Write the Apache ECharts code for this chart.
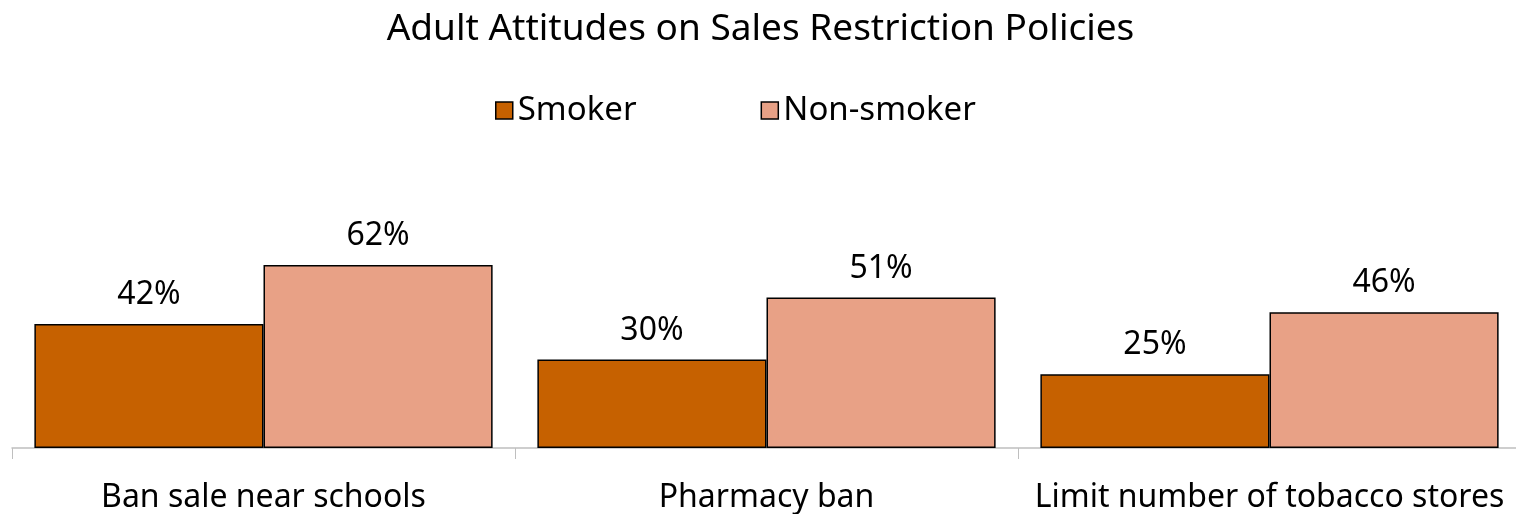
<!DOCTYPE html>
<html><head><meta charset="utf-8">
<script src="https://cdn.jsdelivr.net/npm/echarts@6/dist/echarts.min.js"></script>
<style>html,body{margin:0;padding:0;background:#fff;overflow:hidden}#c{width:1521px;height:514px}</style>
</head><body><div id="c"></div>
<script>
const categories = ['Ban sale near schools', 'Pharmacy ban', 'Limit number of tobacco stores'];
const seriesNames = ['Smoker', 'Non-smoker'];
const smoker = [42, 30, 25];
const nonSmoker = [62, 51, 46];
const titleText = 'Adult Attitudes on Sales Restriction Policies';

const FONT = '"Noto Sans", sans-serif';
const chart = echarts.init(document.getElementById('c'));
const lbl = {show: true, position: 'top', distance: 13, formatter: '{c}%', color: '#000', fontSize: 32, fontFamily: FONT};
chart.setOption({
  animation: false,
  title: {text: titleText, left: 'center', top: 6, textStyle: {fontFamily: FONT, fontSize: 37, fontWeight: 'normal', color: '#000'}},
  legend: {
    data: seriesNames, left: 490, top: 89, itemWidth: 17, itemHeight: 17, itemGap: 124, icon: 'rect',
    textStyle: {fontFamily: FONT, fontSize: 33, color: '#000'},
    itemStyle: {borderColor: '#000', borderWidth: 1.5}
  },
  grid: {left: 12, top: 153, bottom: 66, right: 0},
  xAxis: {
    type: 'category', data: categories,
    axisLine: {lineStyle: {color: '#bfbfbf', width: 1.5}},
    axisTick: {show: true, length: 11, lineStyle: {color: '#bfbfbf'}},
    axisLabel: {color: '#000', fontFamily: FONT, fontSize: 32, margin: 34, interval: 0}
  },
  yAxis: {type: 'value', min: 0, max: 100, show: false, splitLine: {show: false}},
  series: [
    {name: seriesNames[0], type: 'bar', data: smoker, barGap: '0%', barCategoryGap: '8.9%',
     itemStyle: {color: '#C66100', borderColor: '#000', borderWidth: 1.5}, label: lbl},
    {name: seriesNames[1], type: 'bar', data: nonSmoker, barGap: '0%', barCategoryGap: '8.9%',
     itemStyle: {color: '#E8A186', borderColor: '#000', borderWidth: 1.5}, label: lbl}
  ]
});
</script></body></html>
